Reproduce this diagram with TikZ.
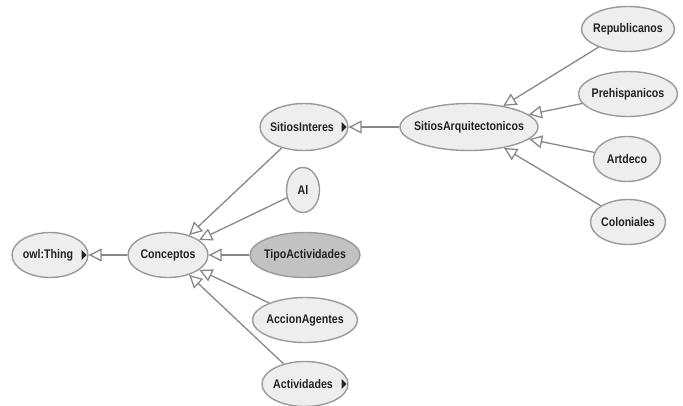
\documentclass[tikz,border=0pt]{standalone}
\usepackage{fontspec}
\newfontfamily\lblfont[FakeStretch=0.85]{Liberation Sans}
\usetikzlibrary{shapes.geometric,arrows.meta}
\definecolor{nodefill}{HTML}{EEEEEE}
\definecolor{selfill}{HTML}{C2C2C2}
\definecolor{bordergray}{HTML}{9A9A9A}
\definecolor{linegray}{HTML}{888888}
\definecolor{textgray}{HTML}{222222}
\newcommand\nlab[1]{\makebox[0pt]{#1}}
\begin{document}
\begin{tikzpicture}[x=1pt,y=-1pt,
  cls/.style={ellipse, draw=bordergray, line width=1.4pt, fill=nodefill, inner sep=0pt,
    minimum height=45pt, font=\lblfont\bfseries\fontsize{12.5}{14}\selectfont, text=textgray},
  isa/.style={draw=linegray, line width=1.3pt, -{Triangle[length=13pt,width=13pt,fill=white]}},
  marker/.style={fill=black!85}]
\clip (0,0) rectangle (683,405);
\fill[white] (0,0) rectangle (683,405);
% nodes
\node[cls, minimum width=76pt] (thing) at (50,255) {\nlab{owl:Thing\hspace{4pt}}};
\node[cls, minimum width=80pt] (conc) at (168,255) {\nlab{Conceptos}};
\node[cls, minimum width=88pt, minimum height=47pt] (si) at (304,127) {\nlab{SitiosInteres\hspace{4pt}}};
\node[cls, minimum width=138pt, minimum height=47pt] (sa) at (469,127) {\nlab{SitiosArquitectonicos}};
\node[cls, minimum width=93pt] (rep) at (628,29) {\nlab{Republicanos}};
\node[cls, minimum width=99pt] (pre) at (628,94) {\nlab{Prehispanicos}};
\node[cls, minimum width=67pt] (art) at (627,159) {\nlab{Artdeco}};
\node[cls, minimum width=75pt] (col) at (628,222) {\nlab{Coloniales}};
\node[cls, minimum width=33pt] (al) at (303,190) {\nlab{Al}};
\node[cls, minimum width=110pt, fill=selfill] (tipo) at (305,255) {\nlab{TipoActividades}};
\node[cls, minimum width=105pt] (acc) at (305,320) {\nlab{AccionAgentes}};
\node[cls, minimum width=86pt] (act) at (305,384) {\nlab{Actividades\hspace{4pt}}};
% markers
\foreach \n in {thing,si,act}{
  \fill[marker] (\n.east) ++(-7,-5) -- ++(5,5) -- ++(-5,5) -- cycle;
}
% edges
\draw[isa] (conc) -- (thing);
\draw[isa] (sa) -- (si);
\draw[isa] (si) -- (conc);
\draw[isa] (al) -- (conc);
\draw[isa] (tipo) -- (conc);
\draw[isa] (acc) -- (conc);
\draw[isa] (act) -- (conc);
\draw[isa] (rep) -- (sa);
\draw[isa] (pre) -- (sa);
\draw[isa] (art) -- (sa);
\draw[isa] (col) -- (sa);
\end{tikzpicture}
\end{document}
